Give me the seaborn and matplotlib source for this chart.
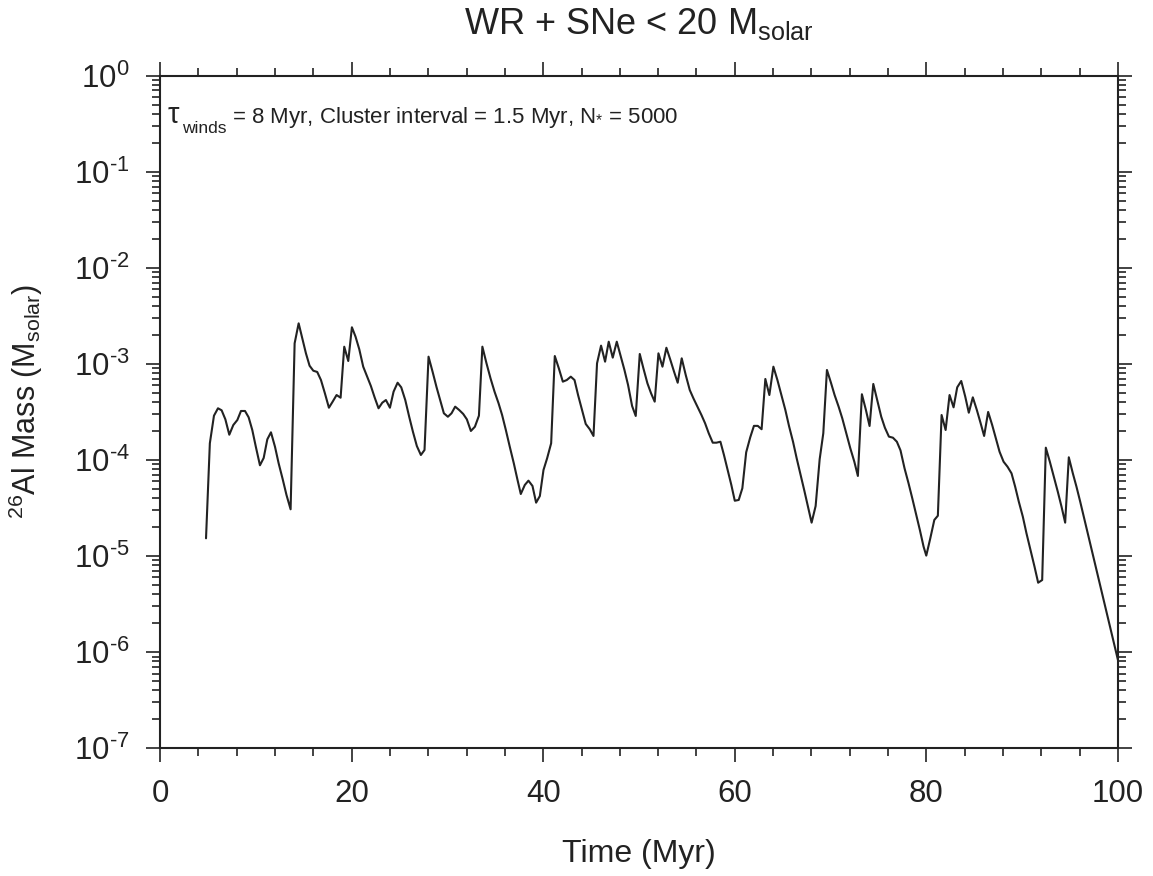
import numpy as np
import pandas as pd
import matplotlib
matplotlib.use('Agg')
import matplotlib.pyplot as plt
from matplotlib.ticker import LogLocator, MultipleLocator, FuncFormatter, NullFormatter
import seaborn as sns

# ------------------------------------------------------------------
# data (time in Myr, log10 of 26Al mass in Msolar)
# ------------------------------------------------------------------
time_myr = [
    4.8, 5.2, 5.63, 6.05, 6.43, 6.82, 7.23, 7.65, 8.07, 8.45, 8.87, 9.25, 9.63, 10.0,
    10.43, 10.82, 11.2, 11.58, 12.0, 12.38, 12.8, 13.2, 13.63, 14.05, 14.47, 14.85,
    15.23, 15.61, 16.0, 16.41, 16.8, 17.21, 17.63, 18.02, 18.43, 18.85, 19.23, 19.65,
    20.03, 20.41, 20.8, 21.21, 21.63, 22.01, 22.4, 22.81, 23.2, 23.58, 24.0, 24.38,
    24.8, 25.18, 25.6, 26.01, 26.4, 26.81, 27.23, 27.61, 28.03, 28.45, 28.87, 29.24,
    29.63, 30.05, 30.43, 30.81, 31.23, 31.65, 32.03, 32.45, 32.87, 33.29, 33.65, 34.08,
    34.5, 34.92, 35.34, 35.71, 36.1, 36.51, 36.93, 37.32, 37.66, 38.08, 38.46, 38.88,
    39.26, 39.65, 40.03, 40.41, 40.83, 41.21, 41.63, 42.05, 42.46, 42.88, 43.27, 43.64,
    44.06, 44.44, 44.86, 45.25, 45.62, 46.04, 46.46, 46.84, 47.26, 47.68, 48.06, 48.48,
    48.86, 49.28, 49.66, 50.08, 50.46, 50.88, 51.26, 51.64, 52.03, 52.45, 52.86, 53.28,
    53.66, 54.04, 54.46, 54.88, 55.3, 55.68, 56.1, 56.52, 56.9, 57.28, 57.7, 58.08,
    58.5, 58.87, 59.26, 59.64, 60.0, 60.41, 60.79, 61.19, 61.61, 62.0, 62.4, 62.8,
    63.19, 63.61, 64.03, 64.45, 64.86, 65.28, 65.66, 66.08, 66.46, 66.85, 67.26, 67.64,
    68.02, 68.44, 68.86, 69.24, 69.62, 70.04, 70.42, 70.84, 71.22, 71.64, 72.06, 72.48,
    72.85, 73.27, 73.69, 74.07, 74.46, 74.87, 75.29, 75.67, 76.09, 76.51, 76.92, 77.3,
    77.72, 78.14, 78.53, 78.95, 79.32, 79.71, 79.99, 80.41, 80.83, 81.2, 81.59, 82.01,
    82.42, 82.84, 83.22, 83.64, 84.06, 84.43, 84.85, 85.27, 85.65, 86.03, 86.45, 86.87,
    87.25, 87.64, 88.06, 88.47, 88.89, 89.27, 89.65, 90.07, 90.45, 90.87, 91.29, 91.67,
    92.09, 92.47, 92.89, 93.31, 93.72, 94.11, 94.49, 94.87, 95.29, 95.67, 96.06, 100.0,
]

log10_al26 = [
    -4.815, -3.826, -3.539, -3.462, -3.483, -3.577, -3.737, -3.636, -3.584, -3.49, -3.49, -3.556, -3.688, -3.862,
    -4.055, -3.979, -3.785, -3.712, -3.862, -4.034, -4.198, -4.364, -4.513, -2.786, -2.578, -2.734,
    -2.89, -3.019, -3.071, -3.084, -3.168, -3.306, -3.456, -3.393, -3.324, -3.352, -2.821, -2.97,
    -2.619, -2.717, -2.848, -3.029, -3.133, -3.23, -3.348, -3.462, -3.404, -3.376, -3.456, -3.289,
    -3.196, -3.244, -3.376, -3.55, -3.706, -3.855, -3.948, -3.896, -2.925, -3.081, -3.244, -3.376,
    -3.514, -3.55, -3.514, -3.445, -3.48, -3.521, -3.577, -3.698, -3.654, -3.539, -2.821, -2.994,
    -3.15, -3.289, -3.41, -3.532, -3.688, -3.862, -4.034, -4.208, -4.354, -4.26, -4.215, -4.27,
    -4.444, -4.375, -4.104, -3.982, -3.826, -2.918, -3.046, -3.185, -3.168, -3.133, -3.168, -3.324,
    -3.48, -3.625, -3.68, -3.75, -2.994, -2.81, -2.977, -2.769, -2.935, -2.769, -2.907, -3.063,
    -3.22, -3.438, -3.542, -2.897, -3.046, -3.202, -3.306, -3.393, -2.89, -3.029, -2.832, -2.96,
    -3.081, -3.196, -2.942, -3.116, -3.272, -3.358, -3.445, -3.532, -3.618, -3.722, -3.82, -3.82,
    -3.81, -3.948, -4.104, -4.26, -4.424, -4.416, -4.294, -3.92, -3.765, -3.645, -3.645, -3.68,
    -3.157, -3.324, -3.029, -3.168, -3.324, -3.48, -3.646, -3.81, -3.982, -4.146, -4.319, -4.486,
    -4.652, -4.479, -3.993, -3.722, -3.063, -3.196, -3.324, -3.445, -3.566, -3.722, -3.878, -4.018,
    -4.166, -3.316, -3.48, -3.646, -3.209, -3.376, -3.55, -3.664, -3.757, -3.768, -3.81, -3.9,
    -4.086, -4.243, -4.399, -4.572, -4.728, -4.902, -4.995, -4.815, -4.624, -4.58, -3.532, -3.688,
    -3.324, -3.452, -3.244, -3.178, -3.341, -3.508, -3.348, -3.48, -3.612, -3.75, -3.5, -3.636,
    -3.774, -3.914, -4.018, -4.07, -4.139, -4.278, -4.434, -4.59, -4.763, -4.937, -5.11, -5.277,
    -5.249, -3.872, -4.018, -4.174, -4.33, -4.486, -4.652, -3.972, -4.139, -4.278, -4.434, -6.081,
]

x_ticks = [0, 20, 40, 60, 80, 100]

TITLE = r'WR + SNe < 20 M$_{\mathregular{solar}}$'
NOTE_TAU = '\u03c4'
NOTE_SUB = 'winds'
NOTE_REST = '= 8 Myr, Cluster interval = 1.5 Myr, N$_{*}$ = 5000'
XLABEL = 'Time (Myr)'
YLABEL = r'$^{26}$Al Mass (M$_{\mathregular{solar}}$)'

df = pd.DataFrame({'time': time_myr, 'mass': 10.0 ** np.array(log10_al26)})

# ------------------------------------------------------------------
# style
# ------------------------------------------------------------------
sns.set_style("ticks")
plt.rcParams['font.family'] = ['Liberation Sans', 'DejaVu Sans']
plt.rcParams['mathtext.fontset'] = 'custom'
plt.rcParams['mathtext.rm'] = 'Liberation Sans'
plt.rcParams['mathtext.it'] = 'Liberation Sans:italic'
plt.rcParams['mathtext.default'] = 'regular'
plt.rcParams['axes.unicode_minus'] = False

ink = '#222222'


def pow10_label(v, pos):
    # short hyphen in the exponent, like the reference
    e = int(round(np.log10(v)))
    return r'$10^{\text{%d}}$' % e


fig = plt.figure(figsize=(11.53, 8.76), dpi=100)
ax = fig.add_axes([0.1388, 0.1458, 0.8308, 0.7679])

sns.lineplot(data=df, x='time', y='mass', ax=ax, color=ink, linewidth=1.5,
             estimator=None, sort=False)

ax.set_yscale('log')
ax.set_xlim(0, 100)
ax.set_ylim(1e-7, 1e0)

ax.set_xticks(x_ticks)
ax.xaxis.set_minor_locator(MultipleLocator(4))
ax.yaxis.set_major_locator(LogLocator(base=10, numticks=20))
ax.yaxis.set_minor_locator(LogLocator(base=10, subs=np.arange(2, 10), numticks=100))
ax.yaxis.set_major_formatter(FuncFormatter(pow10_label))
ax.yaxis.set_minor_formatter(NullFormatter())

ax.tick_params(which='both', direction='out', top=True, right=True,
               labeltop=False, labelright=False, colors=ink, width=1.2)
ax.tick_params(which='major', length=10, labelsize=22.5, pad=12)
ax.tick_params(which='minor', length=6)

for s in ax.spines.values():
    s.set_visible(True)
    s.set_color(ink)
    s.set_linewidth(1.5)

ax.set_xlabel(XLABEL, fontsize=23, color=ink, labelpad=22)
ax.set_ylabel(YLABEL, fontsize=22, color=ink)
ax.yaxis.set_label_coords(-0.12, 0.515)
ax.set_title(TITLE, fontsize=26, color=ink, pad=30)

# annotation: big tau, lowered subscript, then the rest of the line
ax.text(0.008, 0.929, NOTE_TAU, transform=ax.transAxes, fontsize=21, color=ink,
        ha='left', va='baseline')
ax.text(0.0226, 0.9147, NOTE_SUB, transform=ax.transAxes, fontsize=12.5, color=ink,
        ha='left', va='baseline')
ax.text(0.0747, 0.929, NOTE_REST, transform=ax.transAxes, fontsize=16, color=ink,
        ha='left', va='baseline')

fig.savefig('out.png', dpi=100)
plt.close(fig)
